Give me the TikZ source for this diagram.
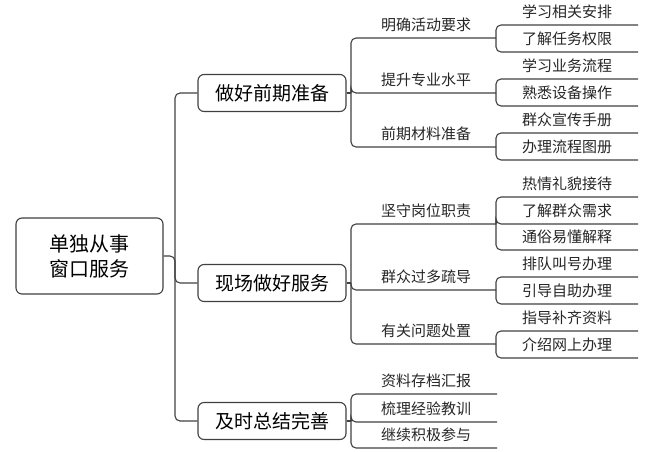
\documentclass[tikz,border=0pt]{standalone}
\usepackage{fontspec}
\newfontfamily\cjk{Noto Sans CJK SC}
\begin{document}
\begin{tikzpicture}[x=1pt,y=-1pt,
  conn/.style={draw=black!75,line width=1.1pt,rounded corners=5pt},
  box/.style={draw=black!75,line width=1.1pt,rounded corners=6pt,minimum width=148pt,minimum height=37pt,font=\cjk\fontsize{19}{23}\selectfont,fill=white,inner sep=0pt},
  lbl/.style={font=\cjk\fontsize{15}{18}\selectfont,inner sep=0pt,text=black!85}]
\useasboundingbox (0,0) rectangle (651,451);
\newcommand\mleaf[5]{% name, x-bracket, y-line, text, parent y, x-end
  \coordinate (#1-s) at (#2,#5);
  \coordinate (#1-e) at (638,#3);
  \node[lbl] (#1) at (567,#3-13) {#4};
  \draw[conn] (#1-s) |- (#1-e);}
\newcommand\mmid[5]{% name, y-line, text, parent y, x-end
  \coordinate (#1-s) at (351,#4);
  \coordinate (#1-e) at (#5,#2);
  \node[lbl] (#1) at (426,#2-13) {#3};
  \draw[conn] (#1-s) |- (#1-e);}
\node[box,minimum width=147pt,minimum height=76pt,align=center,font=\cjk\fontsize{20}{25}\selectfont] (root) at (89.5,256) {单独从事\\窗口服务};
\node[box] (a) at (272,93) {做好前期准备};
\node[box] (b) at (272,283) {现场做好服务};
\node[box] (c) at (272,421) {及时总结完善};
\coordinate (t) at (175,256);
\draw[conn] (a.west) -| (t) |- (c.west);
\draw[conn] (root.east) -- (t) |- (b.west);
% section a
\draw[conn] (a.east) -- (351,93);
\mmid{a1}{38}{明确活动要求}{93}{496}
\mmid{a2}{93}{提升专业水平}{93}{496}
\mmid{a3}{147}{前期材料准备}{93}{496}
\mleaf{a11}{496}{25}{学习相关安排}{38}
\mleaf{a12}{496}{52}{了解任务权限}{38}
\mleaf{a21}{496}{79}{学习业务流程}{93}
\mleaf{a22}{496}{106}{熟悉设备操作}{93}
\mleaf{a31}{496}{133}{群众宣传手册}{147}
\mleaf{a32}{496}{160}{办理流程图册}{147}
% section b
\draw[conn] (b.east) -- (351,283);
\mmid{b1}{224}{坚守岗位职责}{283}{496}
\mmid{b2}{290}{群众过多疏导}{283}{496}
\mmid{b3}{344}{有关问题处置}{283}{496}
\mleaf{b11}{496}{197}{热情礼貌接待}{224}
\mleaf{b12}{496}{224}{了解群众需求}{224}
\mleaf{b13}{496}{250}{通俗易懂解释}{224}
\mleaf{b21}{496}{277}{排队叫号办理}{290}
\mleaf{b22}{496}{304}{引导自助办理}{290}
\mleaf{b31}{496}{331}{指导补齐资料}{344}
\mleaf{b32}{496}{358}{介绍网上办理}{344}
% section c
\draw[conn] (c.east) -- (351,421);
\mmid{c1}{394}{资料存档汇报}{421}{497}
\mmid{c2}{422}{梳理经验教训}{421}{497}
\mmid{c3}{448}{继续积极参与}{421}{497}
\end{tikzpicture}
\end{document}
